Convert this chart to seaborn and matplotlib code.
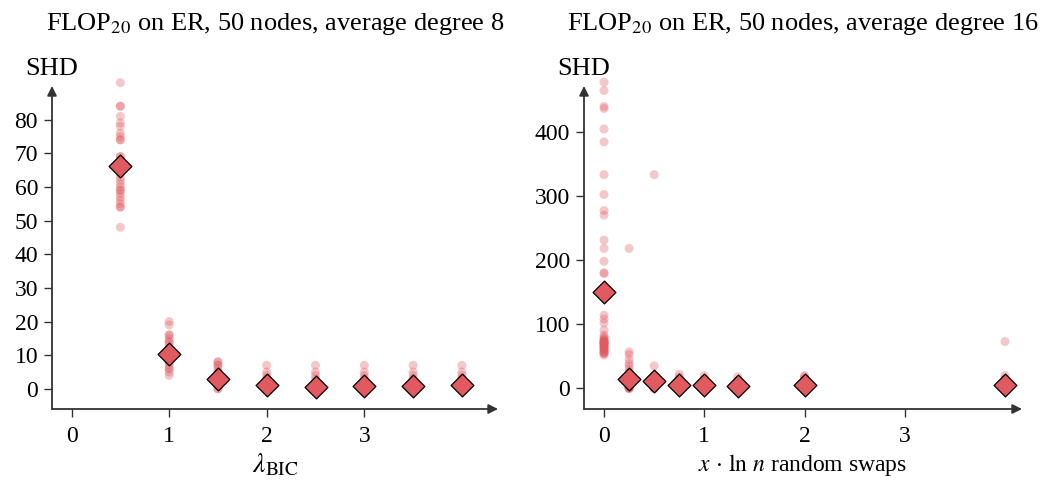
import numpy as np
import pandas as pd
import matplotlib
matplotlib.use("Agg")
import matplotlib.pyplot as plt
import seaborn as sns

# ---- data ----
left_x = [0.5, 1.0, 1.5, 2.0, 2.5, 3.0, 3.5, 4.0]
left_points = [
    [91, 84, 84, 81, 79, 78, 76, 75, 74, 74, 69, 69, 68, 67, 66, 65, 64, 63, 62,
     61, 60, 59, 59, 58, 57, 56, 55, 54, 54, 48],
    [20, 19, 16, 16, 15, 14, 14, 13, 12, 12, 11, 10, 10, 9, 8, 8, 7, 6, 6, 5, 4],
    [8, 8, 7, 7, 6, 5, 5, 4, 3, 3, 2, 2, 1, 1, 0, 0],
    [7, 5, 4, 3, 3, 2, 1, 1, 0, 0],
    [7, 5, 4, 3, 2, 1, 1, 0, 0],
    [7, 5, 4, 3, 2, 1, 1, 0, 0],
    [7, 5, 4, 3, 2, 1, 1, 0, 0],
    [7, 5, 4, 3, 3, 2, 1, 1, 0, 0],
]
left_mean = [66.3, 10.3, 2.9, 1.0, 0.6, 0.7, 0.8, 1.0]

right_x = [0.0, 0.25, 0.5, 0.75, 1.0, 4 / 3, 2.0, 4.0]
right_points = [
    [477, 464, 439, 436, 404, 384, 333, 302, 277, 270, 231, 218, 198, 180, 179,
     114, 108, 102, 91, 83, 80, 78, 76, 75, 74, 73, 72, 72, 71, 70, 70, 69, 68,
     67, 66, 65, 64, 63, 62, 61, 60, 58, 57, 56, 55, 54, 52],
    [218, 57, 53, 45, 39, 35, 30, 25, 20, 15, 10, 5, 3, 2, 1, 0, 0, 0],
    [333, 35, 20, 15, 10, 5, 2, 1, 0, 0],
    [22, 18, 15, 10, 5, 3],
    [20, 15, 10, 5, 3],
    [18, 12, 8, 4, 2],
    [20, 18, 15, 10, 6, 3],
    [73, 20, 15, 10, 5, 3],
]
right_mean = [150, 15, 12, 5, 6, 4, 5, 6]

left_title = r"FLOP$_{20}$ on ER, 50 nodes, average degree 8"
right_title = r"FLOP$_{20}$ on ER, 50 nodes, average degree 16"
left_xlabel = r"$\lambda_{\mathrm{BIC}}$"
right_xlabel = r"$x \,\cdot\, \ln\, n$ random swaps"
ylabel = "SHD"
x_ticks = [0, 1, 2, 3]
left_yticks = [0, 10, 20, 30, 40, 50, 60, 70, 80]
right_yticks = [0, 100, 200, 300, 400]

# ---- style ----
sns.set_theme(style="white")
plt.rcParams["font.family"] = ["Liberation Serif", "DejaVu Serif"]
plt.rcParams["mathtext.fontset"] = "stix"
plt.rcParams["text.color"] = "black"
plt.rcParams["axes.labelcolor"] = "black"
plt.rcParams["axes.titlecolor"] = "black"

RED = "#E05A5F"
AX_COL = "#333333"

fig = plt.figure(figsize=(10.52, 4.84), dpi=100)
axL = fig.add_axes([52 / 1052, 1 - 409 / 484, (498 - 52) / 1052, (409 - 86) / 484])
axR = fig.add_axes([584 / 1052, 1 - 409 / 484, (1022 - 584) / 1052, (409 - 86) / 484])


def long_df(xs, pts):
    rows = [(x, v) for x, vals in zip(xs, pts) for v in vals]
    return pd.DataFrame(rows, columns=["x", "y"])


def draw(ax, xs, pts, means, xlim, ylim, yticks, title, xlabel, xlsize):
    df = long_df(xs, pts)
    sns.scatterplot(data=df, x="x", y="y", ax=ax, color=RED, alpha=0.33,
                    s=42, edgecolor="none", linewidth=0, zorder=2,
                    clip_on=False)
    dm = pd.DataFrame({"x": xs, "y": means})
    sns.scatterplot(data=dm, x="x", y="y", ax=ax, color=RED, marker="D",
                    s=135, edgecolor="black", linewidth=0.9, zorder=3,
                    clip_on=False)
    ax.set_xlim(*xlim)
    ax.set_ylim(*ylim)
    ax.set_xticks(x_ticks)
    ax.set_yticks(yticks)
    for s in ax.spines.values():
        s.set_visible(False)
    ax.annotate("", xy=(1, 0), xytext=(0, 0), xycoords="axes fraction",
                arrowprops=dict(arrowstyle="-|>", color=AX_COL, lw=1.3,
                                shrinkA=0, shrinkB=0, mutation_scale=14),
                annotation_clip=False)
    ax.annotate("", xy=(0, 1), xytext=(0, 0), xycoords="axes fraction",
                arrowprops=dict(arrowstyle="-|>", color=AX_COL, lw=1.3,
                                shrinkA=0, shrinkB=0, mutation_scale=14),
                annotation_clip=False)
    ax.tick_params(axis="both", which="both", direction="out", length=6,
                   width=1.0, color=AX_COL, labelsize=17, labelcolor="black",
                   left=True, bottom=True, pad=4)
    ax.tick_params(axis="x", pad=6)
    ax.set_xlabel(xlabel, fontsize=xlsize, labelpad=4, color="black")
    ax.set_ylabel("")
    ax.set_title(title, fontsize=19, pad=40, color="black")
    ax.text(0, 1.02, ylabel, transform=ax.transAxes, ha="center", va="bottom",
            fontsize=19, color="black")
    ax.grid(False)
    ax.set_facecolor("white")


draw(axL, left_x, left_points, left_mean, (-0.2, 4.37), (-6, 90),
     left_yticks, left_title, left_xlabel, 20)
draw(axR, right_x, right_points, right_mean, (-0.2, 4.17), (-32, 471),
     right_yticks, right_title, right_xlabel, 17)

fig.savefig("out.png", dpi=100, facecolor="white")
